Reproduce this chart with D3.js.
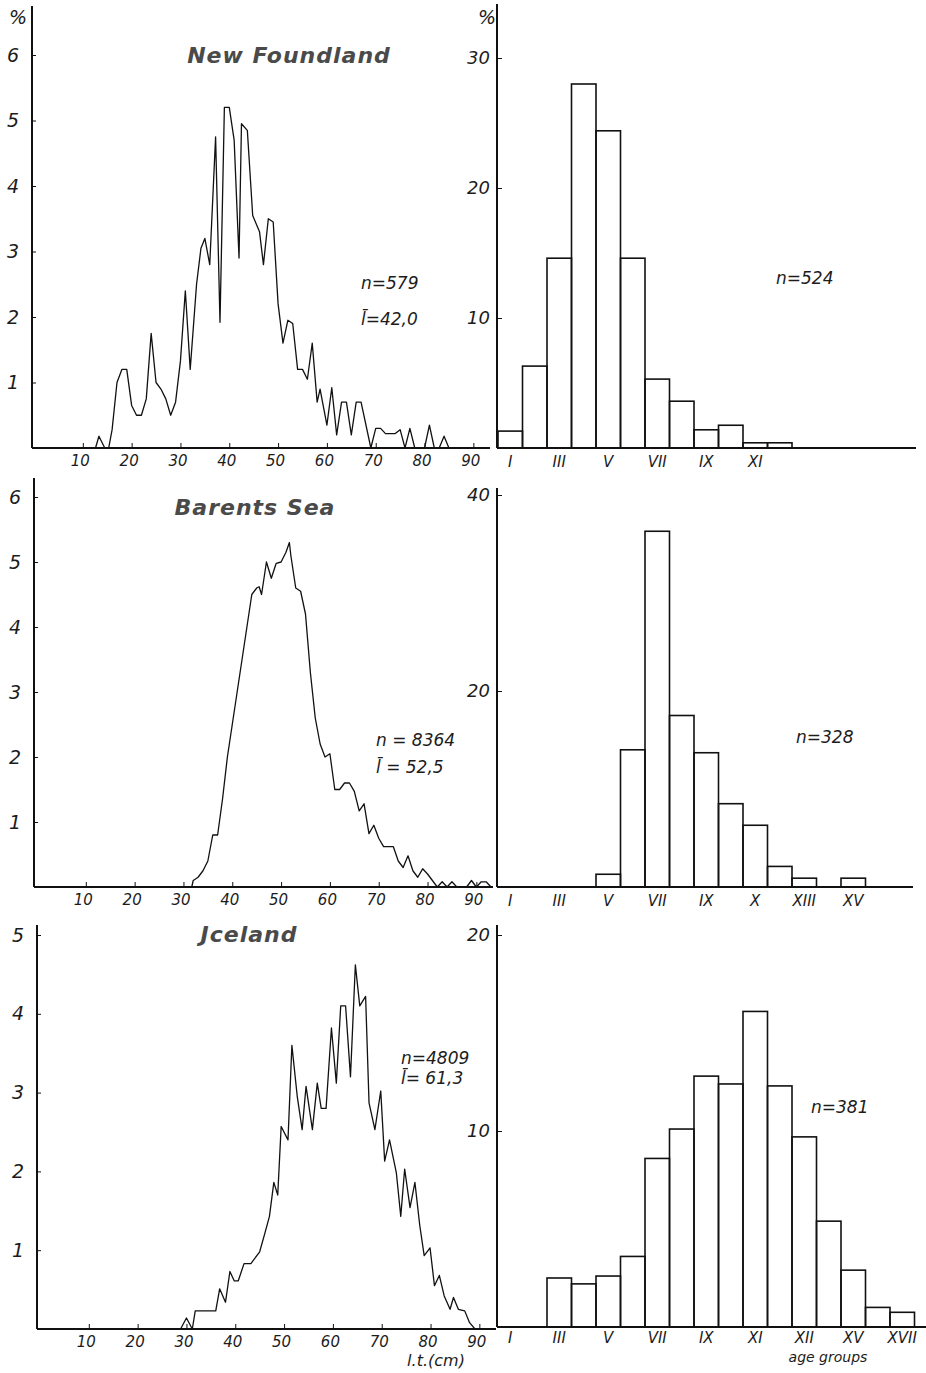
<!DOCTYPE html>
<html>
<head>
<meta charset="utf-8">
<script src="https://cdn.jsdelivr.net/npm/d3@7"></script>
<style>
  body { margin: 0; background: #fff; }
  svg text { font-family: "DejaVu Sans", sans-serif; fill: #1c1c1c; }
  .tick line, .domain { stroke: #111; }
</style>
</head>
<body>
<svg width="926" height="1373"></svg>
<script>
// length classes (cm) -> percent
const lengthTicks = [10, 20, 30, 40, 50, 60, 70, 80, 90];
const ageGroups = ["I","II","III","IV","V","VI","VII","VIII","IX","X","XI","XII","XIII","XIV","XV","XVI","XVII"];

const nfLength = [[12.6,0],[13.3,0.18],[14.5,0],[15.3,0],[16,0.28],[17,1.0],[18,1.2],[19,1.2],[20,0.65],[21,0.5],[22,0.5],
  [23,0.75],[24,1.75],[25,1.0],[26,0.9],[27,0.75],[28,0.5],[29,0.7],[30,1.33],[31,2.4],[32,1.2],[33.3,2.5],[34.2,3.05],
  [35,3.2],[36,2.8],[37.2,4.75],[38.1,1.92],[39,5.2],[40,5.2],[41,4.7],[42,2.9],[42.5,4.95],[43.7,4.85],[44.8,3.55],
  [46.2,3.3],[47,2.8],[48,3.5],[49,3.45],[50,2.2],[51,1.6],[52,1.95],[53,1.9],[54,1.2],[55,1.2],[56,1.05],[57,1.6],
  [58,0.7],[58.6,0.9],[60,0.35],[61,0.92],[62,0.2],[63,0.7],[64,0.7],[65,0.2],[66,0.7],[67,0.7],[69,0],[70,0.3],
  [71,0.3],[72,0.22],[74,0.22],[75,0.28],[76,0],[77,0.3],[78,0],[80,0],[81,0.35],[82,0],[83,0],[84,0.18],[85,0]];

const barentsLength = [[31.7,0],[32,0.1],[33,0.15],[34,0.25],[35,0.4],[36,0.8],[37,0.8],[38,1.35],[39,2.0],[40,2.5],
  [41,3.0],[42,3.5],[43,4.0],[44,4.5],[45,4.6],[45.5,4.62],[46,4.5],[47,5.0],[48,4.75],[49,4.98],[50,5.0],[51,5.15],
  [51.7,5.3],[52,5.1],[53,4.6],[54,4.55],[55,4.2],[56,3.3],[57,2.6],[58,2.2],[59,2.0],[60,2.05],[61,1.5],[62,1.5],
  [63,1.6],[64,1.6],[65,1.47],[66,1.17],[67,1.28],[68,0.82],[69,0.95],[70,0.75],[71,0.62],[73,0.62],[74,0.4],
  [75,0.3],[76,0.48],[77,0.25],[78,0.15],[79,0.28],[80,0.2],[81,0.1],[82,0],[83,0.08],[84,0],[85,0.08],[86,0],
  [88,0],[89,0.1],[90,0],[91,0.08],[92,0.08],[93,0]];

const icelandLength = [[28.8,0],[30,0.14],[31.2,0],[31.8,0.23],[36,0.23],[36.8,0.51],[38,0.34],[38.9,0.73],[39.8,0.61],
  [40.6,0.61],[41.8,0.83],[43.2,0.83],[45,0.98],[46,1.2],[47,1.43],[47.9,1.86],[48.7,1.7],[49.4,2.57],[50.8,2.4],
  [51.6,3.6],[52.7,2.95],[53.7,2.53],[54.5,3.08],[55.8,2.53],[56.8,3.12],[57.6,2.8],[58.6,2.8],[59.7,3.82],
  [60.7,3.12],[61.6,4.1],[62.6,4.1],[63.6,3.2],[64.6,4.62],[65.5,4.1],[66.7,4.22],[67.4,2.87],[68.6,2.53],
  [69.8,3.02],[70.6,2.13],[71.6,2.4],[73,1.98],[73.9,1.43],[74.7,2.03],[75.8,1.54],[76.8,1.86],[77.8,1.31],
  [78.7,0.93],[79.9,1.03],[80.8,0.55],[81.8,0.68],[82.8,0.42],[84,0.25],[84.7,0.4],[85.7,0.25],[87,0.23],
  [88,0.08],[89.1,0]];

// age composition (%) per group I..XVII
const nfAge      = [1.3, 6.3, 14.6, 28.0, 24.4, 14.6, 5.3, 3.6, 1.4, 1.75, 0.4, 0.4, 0, 0, 0, 0, 0];
const barentsAge = [0, 0, 0, 0, 1.3, 14.0, 36.3, 17.5, 13.7, 8.5, 6.3, 2.1, 0.9, 0, 0.9, 0, 0];
const icelandAge = [0, 0, 2.5, 2.2, 2.6, 3.6, 8.6, 10.1, 12.8, 12.4, 16.1, 12.3, 9.7, 5.4, 2.9, 1.0, 0.75];

// group -> printed label (as printed under the bars)
const nfAgeLabels      = [["I","I"],["III","III"],["V","V"],["VII","VII"],["IX","IX"],["XI","XI"]];
const barentsAgeLabels = [["I","I"],["III","III"],["V","V"],["VII","VII"],["IX","IX"],["XI","X"],["XIII","XIII"],["XV","XV"]];
const icelandAgeLabels = [["I","I"],["III","III"],["V","V"],["VII","VII"],["IX","IX"],["XI","XI"],["XIII","XII"],["XV","XV"],["XVII","XVII"]];

const svg = d3.select("svg");

function lengthPanel(o) {
  const x = d3.scaleLinear().domain([0, 93]).range([o.x0, o.x1]),
      y = d3.scaleLinear().domain([0, o.ymax]).range([o.base, o.ytop]);
  const g = svg.append("g");

  // axes lines
  g.append("line").attr("x1", o.ax).attr("x2", o.ax).attr("y1", o.axTop).attr("y2", o.base)
    .attr("stroke", "#111").attr("stroke-width", 2);
  g.append("line").attr("x1", o.ax).attr("x2", o.x1 + 2).attr("y1", o.base).attr("y2", o.base)
    .attr("stroke", "#111").attr("stroke-width", 2);

  const yAxis = d3.axisLeft(y).tickValues(d3.range(1, o.ymax + 1)).tickFormat(d3.format("d"))
    .tickSize(-4).tickPadding(13);
  g.append("g").attr("transform", "translate(" + o.ax + ",0)").call(yAxis)
    .call(s => s.select(".domain").remove())
    .selectAll("text").style("font-size", "19px").style("font-style", "italic");

  const xAxis = d3.axisBottom(x).tickValues(lengthTicks).tickFormat(d3.format("d")).tickSize(-5).tickPadding(7);
  g.append("g").attr("transform", "translate(0," + o.base + ")").call(xAxis)
    .call(s => s.select(".domain").remove())
    .selectAll("text").style("font-size", "15px").style("font-style", "italic").attr("dx", -3);

  g.append("path").datum(o.data)
    .attr("fill", "none").attr("stroke", "#111").attr("stroke-width", 1.3)
    .attr("stroke-linejoin", "round")
    .attr("d", d3.line().x(d => x(d[0])).y(d => y(d[1])));

  g.append("text").attr("x", o.titleX).attr("y", o.titleY).attr("text-anchor", "middle")
    .style("font-size", "22px").style("font-style", "italic").style("font-weight", "bold")
    .style("fill", "#4a4a4a").style("letter-spacing", "1px").text(o.title);

  o.notes.forEach(n => g.append("text").attr("x", n[0]).attr("y", n[1])
    .style("font-size", "17px").style("font-style", "italic").text(n[2]));
}

function agePanel(o) {
  const x = d3.scaleBand().domain(ageGroups).range([498, 914.5]).paddingInner(0),
      y = d3.scaleLinear().domain([0, o.ymax]).range([o.base, o.ytop]);
  const g = svg.append("g");

  g.selectAll("rect").data(o.data.map((v, i) => [ageGroups[i], v]).filter(d => d[1] > 0))
    .enter().append("rect")
    .attr("x", d => x(d[0])).attr("width", x.bandwidth())
    .attr("y", d => y(d[1])).attr("height", d => o.base - y(d[1]))
    .attr("fill", "none").attr("stroke", "#111").attr("stroke-width", 1.6);

  g.append("line").attr("x1", 497).attr("x2", 497).attr("y1", o.axTop).attr("y2", o.base)
    .attr("stroke", "#111").attr("stroke-width", 2);
  g.append("line").attr("x1", 497).attr("x2", o.baseEnd).attr("y1", o.base).attr("y2", o.base)
    .attr("stroke", "#111").attr("stroke-width", 2);

  const yAxis = d3.axisLeft(y).tickValues(o.yticks).tickFormat(d3.format("d")).tickSize(-5).tickPadding(7);
  g.append("g").attr("transform", "translate(497,0)").call(yAxis)
    .call(s => s.select(".domain").remove())
    .selectAll("text").style("font-size", "18px").style("font-style", "italic");

  g.selectAll(".agelab").data(o.labels).enter().append("text")
    .attr("x", d => x(d[0]) + x.bandwidth() / 2).attr("y", o.base + o.labelDy)
    .attr("text-anchor", "middle").style("font-size", "15px").style("font-style", "italic")
    .text(d => d[1]);

  g.append("text").attr("x", o.note[0]).attr("y", o.note[1])
    .style("font-size", "17px").style("font-style", "italic").text(o.note[2]);
}

// percent signs
svg.append("text").attr("x", 9).attr("y", 24).style("font-size", "19px").style("font-style", "italic").text("%");
svg.append("text").attr("x", 478).attr("y", 24).style("font-size", "19px").style("font-style", "italic").text("%");

lengthPanel({ data: nfLength, ax: 32, axTop: 6, x0: 34, x1: 488, base: 448, ytop: 55, ymax: 6,
  title: "New Foundland", titleX: 289, titleY: 63,
  notes: [[361, 289, "n=579"], [361, 325, "l\u0304=42,0"]] });
lengthPanel({ data: barentsLength, ax: 34, axTop: 478, x0: 37, x1: 491, base: 887, ytop: 497, ymax: 6,
  title: "Barents Sea", titleX: 255, titleY: 515,
  notes: [[376, 746, "n = 8364"], [376, 773, "l\u0304 = 52,5"]] });
lengthPanel({ data: icelandLength, ax: 37, axTop: 925, x0: 40, x1: 494, base: 1329, ytop: 935, ymax: 5,
  title: "Jceland", titleX: 249, titleY: 942,
  notes: [[401, 1064, "n=4809"], [401, 1084, "l\u0304= 61,3"]] });

agePanel({ data: nfAge, labels: nfAgeLabels, base: 448, ytop: 58, ymax: 30, yticks: [10, 20, 30],
  axTop: 4, baseEnd: 916, labelDy: 19, note: [776, 284, "n=524"] });
agePanel({ data: barentsAge, labels: barentsAgeLabels, base: 887, ytop: 495, ymax: 40, yticks: [20, 40],
  axTop: 488, baseEnd: 913, labelDy: 19, note: [796, 743, "n=328"] });
agePanel({ data: icelandAge, labels: icelandAgeLabels, base: 1327, ytop: 935, ymax: 20, yticks: [10, 20],
  axTop: 925, baseEnd: 926, labelDy: 16, note: [811, 1113, "n=381"] });

svg.append("text").attr("x", 436).attr("y", 1366).attr("text-anchor", "middle")
  .style("font-size", "16px").style("font-style", "italic").text("l.t.(cm)");
svg.append("text").attr("x", 828).attr("y", 1362).attr("text-anchor", "middle")
  .style("font-size", "14px").style("font-style", "italic").text("age groups");
</script>
</body>
</html>
